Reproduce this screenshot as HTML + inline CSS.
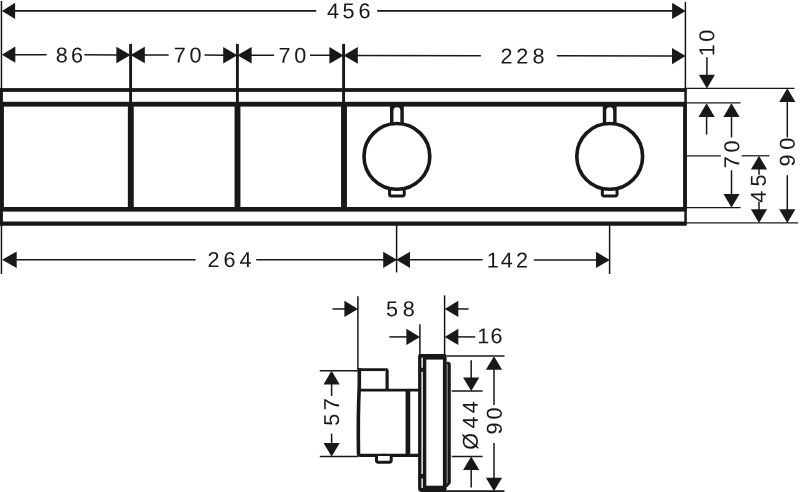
<!DOCTYPE html>
<html lang="en">
<head>
<meta charset="utf-8">
<title>Dimension drawing</title>
<style>
html,body{margin:0;padding:0;background:#fff;}
body{width:800px;height:492px;overflow:hidden;}
figure{margin:0;width:800px;height:492px;}
svg{display:block;will-change:transform;}
svg line{stroke:#181818;stroke-linecap:butt;}
svg text{font-family:"Liberation Sans",sans-serif;fill:#181818;}
</style>
</head>
<body>
<figure>
<svg width="800" height="492" viewBox="0 0 800 492" role="img" aria-label="Dimension drawing: front view 456 x 90 mm, side view 58 mm deep">
<rect x="0" y="0" width="800" height="492" fill="#fff"/>
<!-- front view: dimension lines, labels and body -->
<line x1="1.45" y1="1" x2="1.45" y2="274" stroke-width="1.5"/>
<line x1="685.4" y1="1.9" x2="685.4" y2="88" stroke-width="1.5"/>
<line x1="15" y1="10.9" x2="316.2" y2="10.9" stroke-width="1.8"/>
<line x1="377.2" y1="10.9" x2="673" y2="10.9" stroke-width="1.8"/>
<polygon points="1.90,10.90 15.10,2.80 15.10,19.00" fill="#181818"/>
<polygon points="685.60,10.90 672.10,2.80 672.10,19.00" fill="#181818"/>
<text transform="translate(327.06 18.28) matrix(1 0.0005 0 1 0 0)" x="0.00 15.45 31.46" y="0" font-size="21.6">456</text>
<line x1="130.6" y1="43.9" x2="130.6" y2="104" stroke-width="2.9"/>
<line x1="237.4" y1="43.9" x2="237.4" y2="104" stroke-width="2.9"/>
<line x1="343.6" y1="43.9" x2="343.6" y2="104" stroke-width="2.9"/>
<polygon points="1.90,54.70 15.30,46.60 15.30,62.80" fill="#181818"/>
<polygon points="130.60,54.96 116.40,46.66 116.40,63.26" fill="#181818"/>
<polygon points="130.60,54.96 144.80,46.66 144.80,63.26" fill="#181818"/>
<polygon points="237.40,55.18 223.20,46.88 223.20,63.48" fill="#181818"/>
<polygon points="237.40,55.18 251.60,46.88 251.60,63.48" fill="#181818"/>
<polygon points="343.60,55.40 329.40,47.10 329.40,63.70" fill="#181818"/>
<polygon points="343.60,55.40 357.80,47.10 357.80,63.70" fill="#181818"/>
<polygon points="685.60,56.10 672.00,48.00 672.00,64.20" fill="#181818"/>
<line x1="15" y1="54.73" x2="46.7" y2="54.79" stroke-width="1.5"/>
<line x1="84.4" y1="54.87" x2="118" y2="54.94" stroke-width="1.5"/>
<line x1="143" y1="54.99" x2="168.6" y2="55.04" stroke-width="1.5"/>
<line x1="204.5" y1="55.12" x2="225" y2="55.16" stroke-width="1.5"/>
<line x1="250" y1="55.21" x2="274" y2="55.26" stroke-width="1.5"/>
<line x1="310" y1="55.33" x2="331" y2="55.37" stroke-width="1.5"/>
<line x1="356" y1="55.43" x2="480.9" y2="55.68" stroke-width="1.5"/>
<line x1="556.9" y1="55.84" x2="673" y2="56.08" stroke-width="1.5"/>
<text transform="translate(55.74 62.43) matrix(1 0.0005 0 1 0 0)" x="0.00 15.38" y="0" font-size="21.6">86</text>
<text transform="translate(173.68 62.43) matrix(1 0.0005 0 1 0 0)" x="0.00 15.81" y="0" font-size="21.6">70</text>
<text transform="translate(278.38 62.73) matrix(1 0.0005 0 1 0 0)" x="0.00 15.91" y="0" font-size="21.6">70</text>
<text transform="translate(500.54 63.38) matrix(1 0.0005 0 1 0 0)" x="0.00 15.80 31.90" y="0" font-size="21.6">228</text>
<rect x="0" y="88.1" width="686.80" height="3.80" rx="0" fill="#181818"/>
<rect x="0" y="101.8" width="686.80" height="4.80" rx="0" fill="#181818"/>
<rect x="0" y="207.0" width="686.80" height="4.60" rx="0" fill="#181818"/>
<rect x="0" y="221.4" width="686.80" height="4.30" rx="1.2" fill="#181818"/>
<rect x="0" y="88.1" width="2.90" height="137.60" rx="0" fill="#181818"/>
<rect x="0" y="104" width="3.90" height="105.00" rx="0" fill="#181818"/>
<rect x="684.3" y="88.1" width="2.50" height="136.40" rx="0" fill="#181818"/>
<rect x="683.1" y="104" width="3.70" height="105.00" rx="0" fill="#181818"/>
<line x1="130.8" y1="104" x2="130.8" y2="209" stroke-width="5.9"/>
<line x1="237.5" y1="104" x2="237.5" y2="209" stroke-width="5.9"/>
<line x1="344" y1="104" x2="344" y2="209" stroke-width="5.9"/>
<rect x="390.00" y="105" width="13.8" height="21" fill="#181818"/>
<rect x="393.45" y="107.2" width="6.9" height="20" rx="3.45" fill="#fff"/>
<path d="M389.55 187.5 V194.4 a1.5 1.5 0 0 0 1.5 1.5 H402.75 a1.5 1.5 0 0 0 1.5 -1.5 V187.5" fill="#fff" stroke="#181818" stroke-width="3"/>
<circle cx="396.9" cy="156.4" r="32.9" fill="#fff" stroke="#181818" stroke-width="3.6"/>
<rect x="602.80" y="105" width="13.8" height="21" fill="#181818"/>
<rect x="606.25" y="107.2" width="6.9" height="20" rx="3.45" fill="#fff"/>
<path d="M602.35 187.5 V194.4 a1.5 1.5 0 0 0 1.5 1.5 H615.55 a1.5 1.5 0 0 0 1.5 -1.5 V187.5" fill="#fff" stroke="#181818" stroke-width="3"/>
<circle cx="609.7" cy="156.4" r="32.9" fill="#fff" stroke="#181818" stroke-width="3.6"/>
<line x1="686.5" y1="88.25" x2="794.5" y2="88.25" stroke-width="1.25"/>
<line x1="686.5" y1="102.95" x2="740.6" y2="102.95" stroke-width="1.25"/>
<line x1="686.5" y1="155.8" x2="720.8" y2="155.8" stroke-width="1.25"/>
<line x1="741.6" y1="155.8" x2="769.5" y2="155.8" stroke-width="1.25"/>
<line x1="686.5" y1="207.55" x2="740.6" y2="207.55" stroke-width="1.25"/>
<line x1="686.5" y1="222.9" x2="798" y2="222.9" stroke-width="1.25"/>
<polygon points="706.90,88.40 698.80,74.80 715.00,74.80" fill="#181818"/>
<line x1="706.9" y1="57.2" x2="706.9" y2="76" stroke-width="1.5"/>
<text transform="translate(714.28 56.17) rotate(-90) matrix(1 0.0005 0 1 0 0)" x="0.00 14.52" y="0" font-size="21.6">10</text>
<polygon points="706.60,103.30 698.50,116.90 714.70,116.90" fill="#181818"/>
<line x1="706.6" y1="116" x2="706.6" y2="134.5" stroke-width="1.5"/>
<polygon points="731.50,103.30 723.40,116.90 739.60,116.90" fill="#181818"/>
<line x1="731.5" y1="116" x2="731.5" y2="137.4" stroke-width="1.5"/>
<polygon points="731.50,207.50 723.40,193.90 739.60,193.90" fill="#181818"/>
<line x1="731.5" y1="170.3" x2="731.5" y2="195" stroke-width="1.5"/>
<text transform="translate(739.13 168.17) rotate(-90) matrix(1 0.0005 0 1 0 0)" x="0.00 15.66" y="0" font-size="21.6">70</text>
<polygon points="759.00,155.80 750.90,169.40 767.10,169.40" fill="#181818"/>
<line x1="759" y1="168" x2="759" y2="174.8" stroke-width="1.5"/>
<polygon points="759.00,222.90 750.90,209.30 767.10,209.30" fill="#181818"/>
<line x1="759" y1="201.8" x2="759" y2="210" stroke-width="1.5"/>
<text transform="translate(765.83 202.79) rotate(-90) matrix(1 0.0005 0 1 0 0)" x="0.00 16.40" y="0" font-size="21.6">45</text>
<polygon points="787.30,88.30 779.20,101.90 795.40,101.90" fill="#181818"/>
<line x1="787.3" y1="100" x2="787.3" y2="137.4" stroke-width="1.5"/>
<polygon points="787.30,222.90 779.20,209.30 795.40,209.30" fill="#181818"/>
<line x1="787.3" y1="175.2" x2="787.3" y2="210" stroke-width="1.5"/>
<text transform="translate(794.68 166.55) rotate(-90) matrix(1 0.0005 0 1 0 0)" x="0.00 16.74" y="0" font-size="21.6">90</text>
<line x1="396.6" y1="225" x2="396.6" y2="272.4" stroke-width="1.5"/>
<line x1="609.6" y1="225" x2="609.6" y2="274" stroke-width="1.5"/>
<polygon points="2.10,259.75 16.70,251.45 16.70,268.05" fill="#181818"/>
<polygon points="397.00,259.85 383.20,251.75 383.20,267.95" fill="#181818"/>
<polygon points="396.20,259.85 410.00,251.75 410.00,267.95" fill="#181818"/>
<polygon points="609.80,259.90 596.00,251.80 596.00,268.00" fill="#181818"/>
<line x1="15" y1="259.75" x2="195.6" y2="259.8" stroke-width="1.5"/>
<line x1="256.2" y1="259.81" x2="384" y2="259.84" stroke-width="1.5"/>
<line x1="409" y1="259.85" x2="482.6" y2="259.87" stroke-width="1.5"/>
<line x1="533.8" y1="259.88" x2="597" y2="259.9" stroke-width="1.5"/>
<text transform="translate(207.49 267.03) matrix(1 0.0005 0 1 0 0)" x="0.00 16.08 31.97" y="0" font-size="21.6">264</text>
<text transform="translate(486.73 267.53) matrix(1 0.0005 0 1 0 0)" x="0.00 13.93 29.27" y="0" font-size="21.6">142</text>
<!-- side view: dimension lines, labels and body -->
<line x1="357.9" y1="296.3" x2="357.9" y2="369" stroke-width="1.5"/>
<line x1="444.6" y1="295.3" x2="444.6" y2="356" stroke-width="1.5"/>
<line x1="419.9" y1="324.3" x2="419.9" y2="356" stroke-width="1.5"/>
<polygon points="358.00,308.95 344.40,300.85 344.40,317.05" fill="#181818"/>
<line x1="332.5" y1="308.95" x2="345" y2="308.95" stroke-width="1.5"/>
<polygon points="444.70,308.95 458.30,300.85 458.30,317.05" fill="#181818"/>
<line x1="457" y1="308.95" x2="468.6" y2="308.95" stroke-width="1.5"/>
<text transform="translate(385.91 316.13) matrix(1 0.0005 0 1 0 0)" x="0.00 16.73" y="0" font-size="21.6">58</text>
<polygon points="420.00,336.90 406.40,328.80 406.40,345.00" fill="#181818"/>
<line x1="389.4" y1="336.9" x2="408" y2="336.9" stroke-width="1.5"/>
<polygon points="444.70,336.90 458.30,328.80 458.30,345.00" fill="#181818"/>
<line x1="457" y1="336.9" x2="475.2" y2="336.9" stroke-width="1.5"/>
<text transform="translate(477.18 343.13) matrix(1 0.0005 0 1 0 0)" x="0.00 13.24" y="0" font-size="21.6">16</text>
<line x1="319.8" y1="370.7" x2="358" y2="370.7" stroke-width="1.5"/>
<line x1="319.8" y1="456.4" x2="358" y2="456.4" stroke-width="1.5"/>
<polygon points="331.60,370.80 323.50,384.40 339.70,384.40" fill="#181818"/>
<line x1="331.6" y1="383" x2="331.6" y2="396" stroke-width="1.5"/>
<polygon points="331.60,456.50 323.50,442.90 339.70,442.90" fill="#181818"/>
<line x1="331.6" y1="433.6" x2="331.6" y2="444" stroke-width="1.5"/>
<text transform="translate(339.08 425.74) rotate(-90) matrix(1 0.0005 0 1 0 0)" x="0.00 15.52" y="0" font-size="21.6">57</text>
<line x1="446.6" y1="356.05" x2="504.5" y2="356.05" stroke-width="1.5"/>
<line x1="451.7" y1="391" x2="482.6" y2="391" stroke-width="1.5"/>
<line x1="451.7" y1="456.5" x2="482.6" y2="456.5" stroke-width="1.5"/>
<line x1="446.6" y1="491.2" x2="504.5" y2="491.2" stroke-width="1.8"/>
<polygon points="471.20,391.00 463.10,377.40 479.30,377.40" fill="#181818"/>
<line x1="471.2" y1="360.3" x2="471.2" y2="378" stroke-width="1.5"/>
<polygon points="471.20,456.50 463.10,470.10 479.30,470.10" fill="#181818"/>
<line x1="471.2" y1="469" x2="471.2" y2="487.6" stroke-width="1.5"/>
<text transform="translate(477.68 449.76) rotate(-90) matrix(1 0.0005 0 1 0 0)" x="0.00 21.37 36.62" y="0" font-size="21.6">Ø44</text>
<polygon points="494.00,356.20 485.90,369.80 502.10,369.80" fill="#181818"/>
<line x1="494" y1="369" x2="494" y2="405" stroke-width="1.5"/>
<polygon points="494.00,491.30 485.90,477.70 502.10,477.70" fill="#181818"/>
<line x1="494" y1="442.9" x2="494" y2="479" stroke-width="1.5"/>
<text transform="translate(501.73 434.55) rotate(-90) matrix(1 0.0005 0 1 0 0)" x="0.00 14.94" y="0" font-size="21.6">90</text>
<path d="M385.5 369.65 a1.6 1.6 0 0 1 1.6 1.6 V390" fill="none" stroke="#181818" stroke-width="3.2"/>
<path d="M357.6 369.65 H385.6" fill="none" stroke="#181818" stroke-width="2.8"/>
<path d="M358 390.1 H419" fill="none" stroke="#181818" stroke-width="2.9"/>
<path d="M359.3 368.3 V385 C358.6 400 358.0 425 358.5 453.6 Q358.6 455.2 360.2 455.2" fill="none" stroke="#181818" stroke-width="3.6"/>
<path d="M359.6 455.3 H419" fill="none" stroke="#181818" stroke-width="3.2"/>
<path d="M378 454.6 Q384 452.8 390 454.6 Z" fill="#181818"/>
<line x1="407.9" y1="390" x2="407.9" y2="455" stroke-width="4.7"/>
<path d="M376.5 456 V460.7 a1.5 1.5 0 0 0 1.5 1.5 H389.7 a1.5 1.5 0 0 0 1.5 -1.5 V456" fill="#fff" stroke="#181818" stroke-width="3"/>
<path d="M418.1 356 a1.9 1.9 0 0 1 1.9 -1.9 H444.7 a1.9 1.9 0 0 1 1.9 1.9 V492 H421.5 a3.4 3.4 0 0 1 -3.4 -3.4 Z" fill="#181818"/>
<rect x="426.3" y="359.6" width="16.6" height="126.1" fill="#fff"/>
<rect x="421.45" y="357.6" width="1.35" height="10.20" fill="#fff"/>
<rect x="421.45" y="371.8" width="1.35" height="102.20" fill="#fff"/>
<rect x="421.45" y="478.4" width="1.35" height="9.60" fill="#fff"/>
<path d="M446.2 361.7 H449.1 L450.8 363.6 V483.0 L447.4 487 H446.2 Z" fill="#181818"/>
<rect x="446.75" y="364.2" width="1.05" height="119" fill="#8c8c8c"/>
</svg>
</figure>
</body>
</html>
